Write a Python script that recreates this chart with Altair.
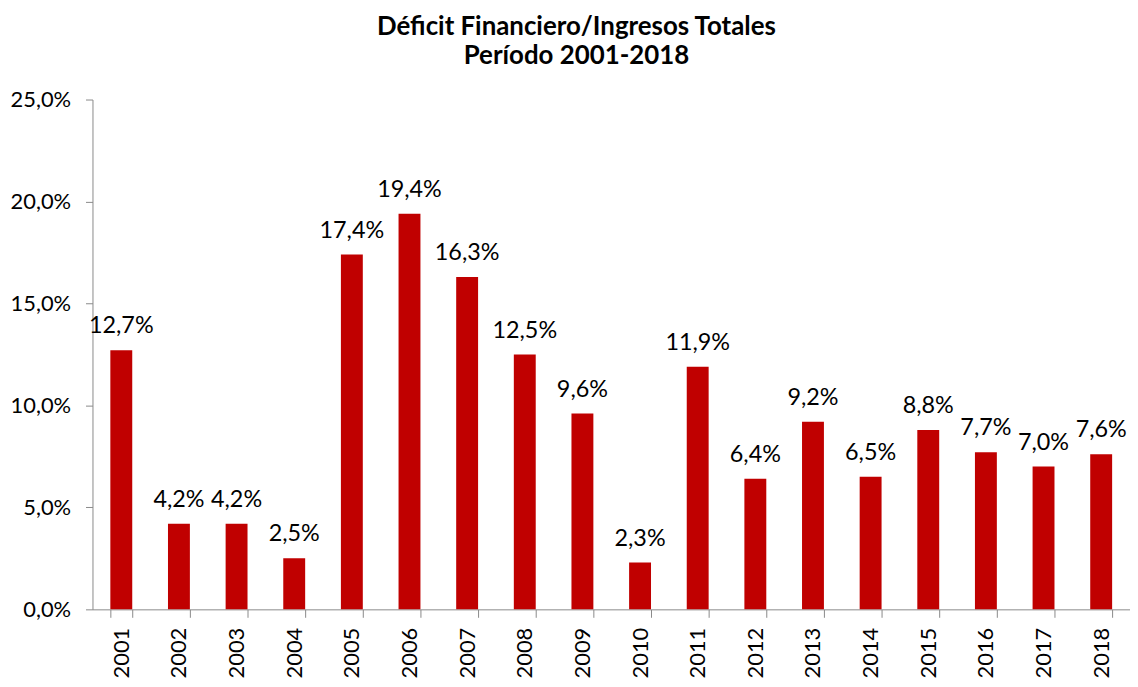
import altair as alt
import pandas as pd

years = [str(y) for y in range(2001, 2019)]
values = [12.7, 4.2, 4.2, 2.5, 17.4, 19.4, 16.3, 12.5, 9.6, 2.3, 11.9, 6.4, 9.2, 6.5, 8.8, 7.7, 7.0, 7.6]
labels = [f"{v:.1f}%".replace(".", ",") for v in values]

df = pd.DataFrame({"year": years, "value": values, "label": labels})

FONT = "Lato"
AXIS_COLOR = "#898989"

base = alt.Chart(df).encode(
    x=alt.X("year:N", sort=years,
            scale=alt.Scale(paddingInner=0.62, paddingOuter=0.31),
            axis=alt.Axis(title=None, labelAngle=-90, labelFontSize=22, labelFont=FONT,
                          labelColor="#000000", labelPadding=10, tickBand="extent",
                          tickSize=8, tickColor=AXIS_COLOR, domainColor=AXIS_COLOR,
                          labelBaseline="middle")),
    y=alt.Y("value:Q", scale=alt.Scale(domain=[0, 25], nice=False),
            axis=alt.Axis(title=None, values=[0, 5, 10, 15, 20, 25], grid=False,
                          labelExpr="replace(format(datum.value, '.1f'), '.', ',') + '%'",
                          labelFontSize=22, labelFont=FONT, labelColor="#000000",
                          tickSize=7, tickColor=AXIS_COLOR, domainColor=AXIS_COLOR,
                          labelPadding=15)),
)

bars = base.mark_bar(color="#C00000")
text = base.mark_text(dy=-17, baseline="alphabetic", fontSize=23.5, font=FONT, color="#000000").encode(
    text="label:N")

chart = (bars + text).properties(
    width=1044, height=513,
    padding={"left": 85, "top": 90, "right": 0, "bottom": 70},
    autosize=alt.AutoSizeParams(type="none"),
    title=alt.TitleParams(["Déficit Financiero/Ingresos Totales", "Período 2001-2018"],
                          font=FONT, fontSize=26, fontWeight="bold", color="#000000",
                          anchor="middle", dx=-35, offset=20, lineHeight=29),
).configure_view(stroke=None)

chart.save("out.html", embed_options={"renderer": "svg", "actions": False})
